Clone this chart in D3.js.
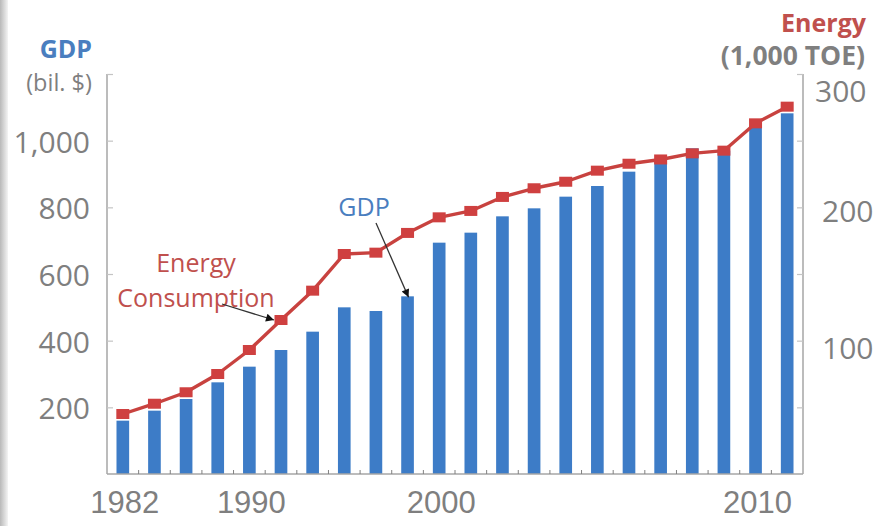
<!DOCTYPE html>
<html>
<head>
<meta charset="utf-8">
<script src="https://cdn.jsdelivr.net/npm/d3@7"></script>
<style>
  html, body { margin: 0; padding: 0; background: #fff; }
  svg { display: block; font-family: "Open Sans", "Noto Sans", sans-serif; }
</style>
</head>
<body>
<svg id="chart" width="885" height="526"></svg>
<script>
// Categories (survey years) and the two series
const years = ["1982","1984","1986","1988","1990","1992","1994","1996","1998","1999",
               "2000","2001","2002","2003","2004","2005","2006","2007","2008","2009","2010","2011"];
const gdp = [160, 190, 225, 275, 322, 372, 427, 500, 489, 533,
             694, 724, 773, 797, 832, 864, 907, 937, 977, 970, 1042, 1082];
const energy = [45, 52.7, 61.3, 75, 93, 115.5, 137.5, 165, 166, 180.8,
                192.5, 197.3, 207.8, 214.3, 219.2, 227.5, 232.7, 235.9, 240.5, 242.5, 263, 275.5];

// Axis ticks and labels
const yearLabels = ["1982", "1990", "2000", "2010"];
const gdpTicks = [200, 400, 600, 800, 1000, 1200];
const gdpTickLabels = [200, 400, 600, 800, 1000];
const energyTicks = [50, 100, 150, 200, 250, 300];
const energyTickLabels = [100, 200, 300];

const svg = d3.select("#chart");

// soft grey edge on the left side of the slide
const defs = svg.append("defs");
const edge = defs.append("linearGradient").attr("id", "edge").attr("x1", 0).attr("x2", 1);
edge.append("stop").attr("offset", 0).attr("stop-color", "#b9b9b9");
edge.append("stop").attr("offset", 1).attr("stop-color", "#f4f4f4");
svg.append("rect").attr("x", 0).attr("y", 0).attr("width", 8).attr("height", 526).attr("fill", "url(#edge)");

const plot = { left: 107, right: 803, top: 74, bottom: 474 };

const x = d3.scaleBand().domain(years).range([plot.left, plot.right]).paddingInner(0).paddingOuter(0);
const yL = d3.scaleLinear().domain([0, 1200]).range([plot.bottom, plot.top]);
const yR = d3.scaleLinear().domain([0, 300]).range([plot.bottom, plot.top]);

const grey = "#7f7f7f";
const axisGrey = "#a6a6a6";
const blue = "#3d7cc7";
const red = "#c8423f";
const titleBlue = "#4a7ebf";
const titleRed = "#c0504d";

// bars (GDP, left axis)
const barW = x.bandwidth() * 0.4;
svg.append("g").selectAll("rect").data(years).join("rect")
  .attr("x", (d) => x(d) + x.bandwidth() / 2 - barW / 2)
  .attr("y", (d, i) => yL(gdp[i]))
  .attr("width", barW)
  .attr("height", (d, i) => yL(0) - yL(gdp[i]))
  .attr("fill", blue);

// left axis
const axL = svg.append("g").attr("transform", `translate(${plot.left},0)`)
  .call(d3.axisLeft(yL).tickValues(gdpTicks).tickSize(-6).tickPadding(17)
    .tickFormat((d) => gdpTickLabels.includes(d) ? d3.format(",")(d) : ""));
axL.select(".domain").attr("stroke", axisGrey).attr("stroke-width", 1.5).attr("d", `M0,${plot.top}V${plot.bottom}`);
axL.selectAll(".tick line").attr("stroke", "#c4c4c4").attr("stroke-width", 1.2);
axL.selectAll(".tick text").attr("fill", grey).style("font-size", "30px")
  .style("font-family", "'Open Sans', sans-serif").attr("dy", "0.38em");

// right axis
const rightNudge = { 300: [-7, 16], 200: [0, 3], 100: [0, 6] };
const axR = svg.append("g").attr("transform", `translate(${plot.right},0)`)
  .call(d3.axisRight(yR).tickValues(energyTicks).tickSize(-6).tickPadding(19)
    .tickFormat((d) => energyTickLabels.includes(d) ? d : ""));
axR.select(".domain").attr("stroke", axisGrey).attr("stroke-width", 1.5).attr("d", `M0,${plot.top}V${plot.bottom}`);
axR.selectAll(".tick line").attr("stroke", "#c4c4c4").attr("stroke-width", 1.2);
axR.selectAll(".tick text").attr("fill", grey).style("font-size", "30px")
  .style("font-family", "'Open Sans', sans-serif")
  .attr("dy", "0.38em")
  .attr("transform", (d) => rightNudge[d] ? `translate(${rightNudge[d][0]},${rightNudge[d][1]})` : null);

// bottom axis
const axB = svg.append("g").attr("transform", `translate(0,${plot.bottom})`)
  .call(d3.axisBottom(x).tickSize(0).tickFormat(""));
axB.select(".domain").attr("stroke", axisGrey).attr("stroke-width", 1.5).attr("d", `M${plot.left},0H${plot.right}`);
axB.selectAll(".tick").remove();
// category boundary ticks pointing up into the plot
const bounds = years.slice(1).map((d) => x(d));
axB.append("g").selectAll("line").data(bounds).join("line")
  .attr("x1", (d) => d).attr("x2", (d) => d).attr("y1", 0).attr("y2", -4)
  .attr("stroke", "#808080").attr("stroke-width", 1);
axB.append("g").selectAll("text").data(yearLabels).join("text")
  .attr("x", (d) => x(d) + x.bandwidth() / 2 + 2)
  .attr("y", 39)
  .attr("text-anchor", "middle")
  .attr("fill", grey)
  .style("font-size", "31px")
  .text((d) => d);

// energy line (right axis)
const line = d3.line().x((d, i) => x(years[i]) + x.bandwidth() / 2).y((d) => yR(d));
svg.append("path").datum(energy).attr("d", line)
  .attr("fill", "none").attr("stroke", red).attr("stroke-width", 3.4).attr("stroke-linejoin", "round");
svg.append("g").selectAll("rect").data(energy).join("rect")
  .attr("x", (d, i) => x(years[i]) + x.bandwidth() / 2 - 6.5)
  .attr("y", (d) => yR(d) - 5)
  .attr("width", 13).attr("height", 10)
  .attr("fill", "#cf4040");

// axis titles
svg.append("text").attr("x", 92).attr("y", 58).attr("text-anchor", "end")
  .attr("fill", titleBlue).style("font-size", "25px").style("font-weight", "bold").text("GDP");
svg.append("text").attr("x", 92).attr("y", 91).attr("text-anchor", "end")
  .attr("fill", grey).style("font-size", "23.5px").text("(bil. $)");
svg.append("text").attr("x", 866).attr("y", 32).attr("text-anchor", "end")
  .attr("fill", titleRed).style("font-size", "25px").style("font-weight", "bold").text("Energy");
svg.append("text").attr("x", 865).attr("y", 65).attr("text-anchor", "end")
  .attr("fill", grey).style("font-size", "26.5px").style("font-weight", "bold").text("(1,000 TOE)");

// annotations with arrows
defs.append("marker").attr("id", "arrow").attr("viewBox", "0 0 10 10")
  .attr("refX", 10).attr("refY", 5).attr("markerWidth", 11).attr("markerHeight", 8)
  .attr("markerUnits", "userSpaceOnUse").attr("orient", "auto")
  .append("path").attr("d", "M0,0L10,5L0,10Z").attr("fill", "#111");

svg.append("text").attr("x", 196).attr("y", 272).attr("text-anchor", "middle")
  .attr("fill", titleRed).style("font-size", "25px").text("Energy");
svg.append("text").attr("x", 196).attr("y", 307).attr("text-anchor", "middle")
  .attr("fill", titleRed).style("font-size", "25px").text("Consumption");
svg.append("text").attr("x", 364).attr("y", 216).attr("text-anchor", "middle")
  .attr("fill", titleBlue).style("font-size", "25px").text("GDP");

const eIdx = years.indexOf("1992");
const eTip = [x(years[eIdx]) + x.bandwidth() / 2 - 7, yR(energy[eIdx])];
svg.append("line").attr("x1", 222).attr("y1", 304).attr("x2", eTip[0]).attr("y2", eTip[1])
  .attr("stroke", "#333").attr("stroke-width", 1.3).attr("marker-end", "url(#arrow)");

const gIdx = years.indexOf("1999");
const gTip = [x(years[gIdx]) + x.bandwidth() / 2 + 1, yL(gdp[gIdx]) + 1];
svg.append("line").attr("x1", 376).attr("y1", 223).attr("x2", gTip[0]).attr("y2", gTip[1])
  .attr("stroke", "#333").attr("stroke-width", 1.3).attr("marker-end", "url(#arrow)");
</script>
</body>
</html>
